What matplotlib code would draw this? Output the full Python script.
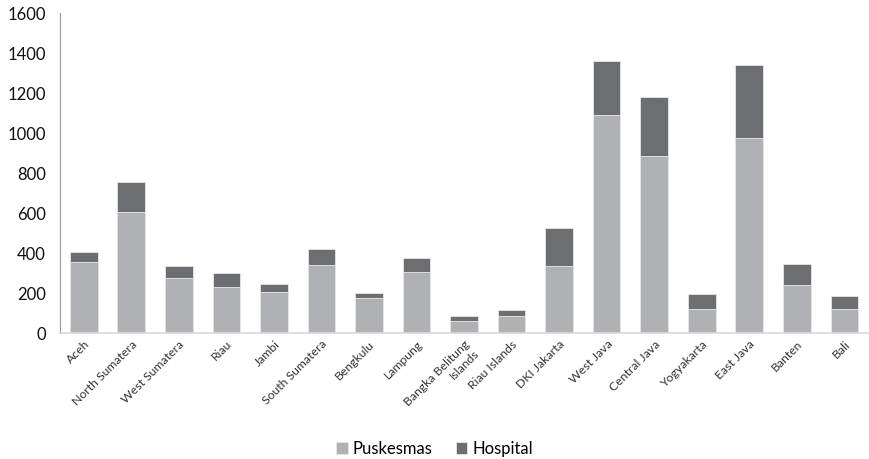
import numpy as np
import matplotlib.pyplot as plt

provinces = ["Aceh", "North Sumatera", "West Sumatera", "Riau", "Jambi",
             "South Sumatera", "Bengkulu", "Lampung", "Bangka Belitung\nIslands",
             "Riau Islands", "DKI Jakarta", "West Java", "Central Java",
             "Yogyakarta", "East Java", "Banten", "Bali"]
puskesmas = [355, 605, 275, 230, 205, 340, 177, 307, 60, 85, 333, 1090, 883, 120, 973, 242, 120]
hospital = [50, 150, 60, 70, 40, 78, 23, 68, 25, 30, 190, 270, 295, 77, 365, 105, 65]

plt.rcParams['font.family'] = ['Lato', 'DejaVu Sans']

fig = plt.figure(figsize=(8.69, 4.59), dpi=100)
ax = fig.add_axes([0.069, 0.2745, 0.93, 0.697])

x = np.arange(len(provinces))
ax.bar(x, puskesmas, width=0.58, color='#b0b1b4', edgecolor='#e6e6e6', linewidth=0.6,
       label='Puskesmas')
ax.bar(x, hospital, width=0.58, bottom=puskesmas, color='#6d6e71', edgecolor='#e6e6e6',
       linewidth=0.6, label='Hospital')

ax.set_xlim(-0.5, len(provinces) - 0.5)
ax.set_ylim(0, 1600)
ax.set_yticks(range(0, 1601, 200))
ax.tick_params(axis='y', length=0, labelsize=12, pad=10, labelcolor='#111111')
ax.tick_params(axis='x', length=0, pad=4)
ax.set_xticks(x)
ax.set_xticklabels(provinces, rotation=45, ha='right', va='top',
                   rotation_mode='anchor', fontsize=8.8, color='#333333')

for s in ['top', 'right']:
    ax.spines[s].set_visible(False)
ax.spines['left'].set_color('#999999')
ax.spines['bottom'].set_color('#d9d9d9')
ax.spines['bottom'].set_linewidth(1.2)

fig.legend(loc='lower center', bbox_to_anchor=(0.5, -0.028), ncol=2, frameon=False,
           fontsize=12, handlelength=0.7, handleheight=0.7, handletextpad=0.3,
           columnspacing=1.4)

fig.savefig('out.png', dpi=100)
